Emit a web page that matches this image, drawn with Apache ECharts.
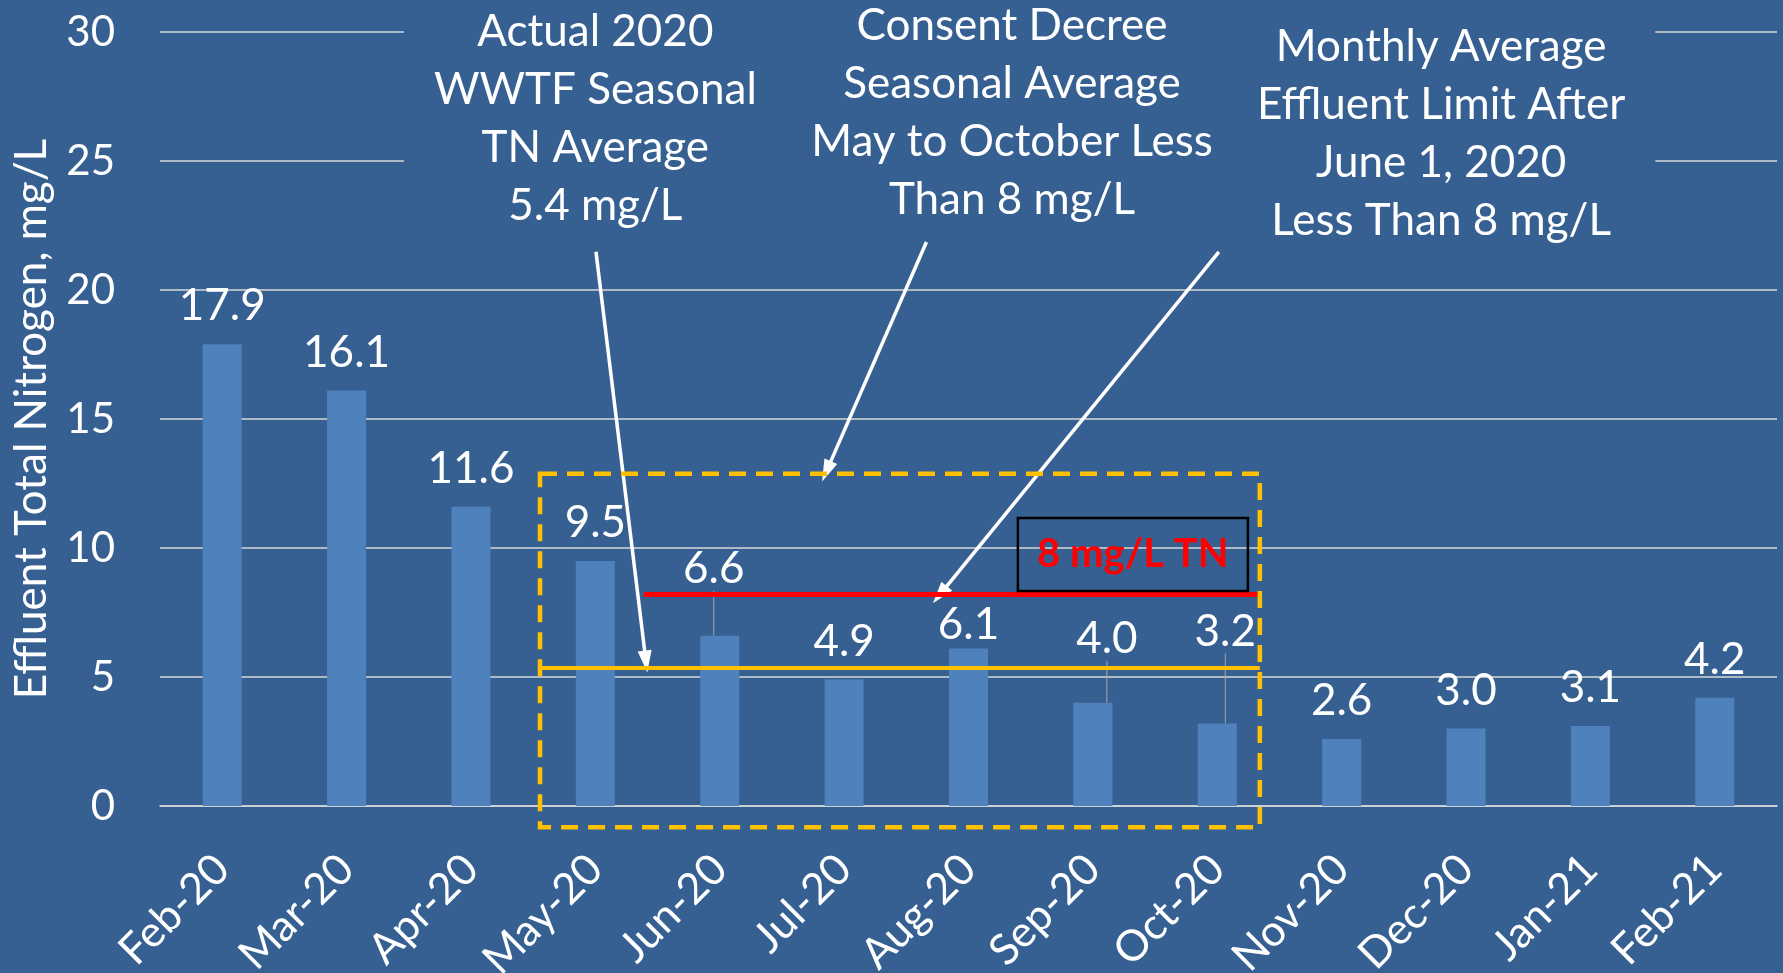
<!DOCTYPE html>
<html>
<head>
<meta charset="utf-8">
<title>Effluent Total Nitrogen</title>
<script src="https://cdn.jsdelivr.net/npm/echarts@6/dist/echarts.min.js"></script>
<style>
    html, body { margin: 0; padding: 0; background: #376092; }
    #Chart { width: 1783px; height: 973px; }
</style>
</head>
<body>
<div id="Chart"></div>
<script>
// data
var months = ['Feb-20', 'Mar-20', 'Apr-20', 'May-20', 'Jun-20', 'Jul-20', 'Aug-20',
    'Sep-20', 'Oct-20', 'Nov-20', 'Dec-20', 'Jan-21', 'Feb-21'];
var tnValues = [17.9, 16.1, 11.6, 9.5, 6.6, 4.9, 6.1, 4.0, 3.2, 2.6, 3.0, 3.1, 4.2];
var yTicks = [0, 5, 10, 15, 20, 25, 30];

// the two level lines, as drawn in the picture (mg/L)
var limitLevel = 8.2;
var seasonalLevel = 5.35;

var noteActual = ['Actual 2020', 'WWTF Seasonal', 'TN Average', '5.4 mg/L'];
var noteDecree = ['Consent Decree', 'Seasonal Average', 'May to October Less', 'Than 8 mg/L'];
var noteMonthly = ['Monthly Average', 'Effluent Limit After', 'June 1, 2020', 'Less Than 8 mg/L'];
var limitTag = '8 mg/L TN';

// annotation anchors: [month index, mg/L]
var notes = [
    { lines: noteActual, at: [3.0, 26.63], from: [3.005, 21.48], to: [3.407, 5.6] },
    { lines: noteDecree, at: [6.35, 26.86], from: [5.662, 21.86], to: [4.858, 12.97] },
    { lines: noteMonthly, at: [9.8, 26.05], from: [8.013, 21.48], to: [5.77, 8.19] }
];
var seasonBox = [[2.555, 12.88], [8.342, -0.82]];
var tagBox = [[6.397, 11.16], [8.246, 8.33]];
var limitSpan = [3.39, 8.34];
var seasonalSpan = [2.555, 8.342];

// label nudges for the crowded months
var labelNudge = { 4: [-6, -29], 6: [0, 14], 7: [14, -26], 8: [8, -54] };

var bgColor = '#376092';
var barColor = '#4F81BD';
var gridColor = '#d9d9d9';
var font = 'Lato';

var barData = tnValues.map(function (v, i) {
    var item = { value: v };
    if (labelNudge[i] && labelNudge[i][1] < 0) {
        item.labelLine = { show: true, lineStyle: { color: '#a6a6a6', width: 1 } };
    }
    return item;
});

var myChart = echarts.init(document.getElementById('Chart'));

var option = {
    animation: false,
    backgroundColor: bgColor,
    grid: { left: 160, right: 6, top: 32, bottom: 167, outerBoundsMode: 'none' },
    xAxis: [{
        type: 'category',
        data: months,
        axisLine: { show: true, lineStyle: { color: gridColor, width: 1.5 } },
        axisTick: { show: false },
        axisLabel: {
            rotate: 45, margin: 56, color: '#fff',
            fontFamily: font, fontSize: 43, interval: 0
        }
    }, {
        type: 'value',
        min: -0.5,
        max: 12.5,
        show: false
    }],
    yAxis: {
        type: 'value',
        min: yTicks[0],
        max: yTicks[yTicks.length - 1],
        interval: yTicks[1] - yTicks[0],
        name: 'Effluent Total Nitrogen, mg/L',
        nameLocation: 'middle',
        nameGap: 106,
        nameTextStyle: { color: '#fff', fontFamily: font, fontSize: 44 },
        axisLine: { show: false },
        axisTick: { show: false },
        axisLabel: { color: '#fff', fontFamily: font, fontSize: 42, margin: 45 },
        splitLine: { show: true, lineStyle: { color: gridColor, width: 1.5 } }
    },
    series: [{
        type: 'bar',
        data: barData,
        barWidth: 39,
        itemStyle: { color: barColor },
        label: {
            show: true,
            position: 'top',
            distance: 16,
            color: '#fff',
            fontFamily: font,
            fontSize: 44,
            formatter: function (p) { return p.value.toFixed(1); }
        },
        labelLayout: function (params) {
            var n = labelNudge[params.dataIndex];
            return n ? { dx: n[0], dy: n[1] } : {};
        },
        silent: true
    }, {
        // arrows
        type: 'line', xAxisIndex: 1, data: [], silent: true,
        markLine: {
            silent: true,
            symbol: ['none', 'triangle'],
            symbolSize: [14, 22],
            label: { show: false },
            lineStyle: { color: '#fff', width: 3.5, type: 'solid' },
            data: notes.map(function (n) {
                return [{ coord: n.from }, { coord: n.to }];
            })
        }
    }, {
        // 8 mg/L limit line
        type: 'line', xAxisIndex: 1, data: [], silent: true,
        markLine: {
            silent: true,
            symbol: ['none', 'none'],
            label: { show: false },
            lineStyle: { color: '#FF0000', width: 5, type: 'solid' },
            data: [[{ coord: [limitSpan[0], limitLevel] }, { coord: [limitSpan[1], limitLevel] }]]
        }
    }, {
        // seasonal average line
        type: 'line', xAxisIndex: 1, data: [], silent: true,
        markLine: {
            silent: true,
            symbol: ['none', 'none'],
            label: { show: false },
            lineStyle: { color: '#FFC000', width: 4, type: 'solid' },
            data: [[{ coord: [seasonalSpan[0], seasonalLevel] }, { coord: [seasonalSpan[1], seasonalLevel] }]]
        }
    }]
};
myChart.setOption(option);

function toPx(p) {
    return myChart.convertToPixel({ xAxisIndex: 1, yAxisIndex: 0 }, p);
}
function rectOf(box) {
    var a = toPx(box[0]), b = toPx(box[1]);
    return { x: a[0], y: a[1], width: b[0] - a[0], height: b[1] - a[1] };
}

var graphics = [];
var sb = rectOf(seasonBox);
graphics.push({
    type: 'rect', z: 10, silent: true, shape: sb,
    style: { fill: 'none', stroke: '#FFC000', lineWidth: 4.5, lineDash: [17, 10] }
});
var tb = rectOf(tagBox);
graphics.push({
    type: 'rect', z: 10, silent: true, shape: tb,
    style: { fill: 'none', stroke: '#000', lineWidth: 2.5 }
});
graphics.push({
    type: 'text', z: 11, silent: true,
    style: {
        x: tb.x + tb.width / 2, y: tb.y + tb.height / 2,
        text: limitTag, fill: '#FF0000',
        font: 'bold 40px ' + font, align: 'center', verticalAlign: 'middle'
    }
});
notes.forEach(function (n) {
    var p = toPx(n.at);
    graphics.push({
        type: 'text', z: 11, silent: true,
        style: {
            x: p[0], y: p[1],
            text: n.lines.join('\n'),
            fill: '#fff', font: '44px ' + font,
            lineHeight: 58, align: 'center', verticalAlign: 'middle',
            backgroundColor: bgColor, padding: [4, 30]
        }
    });
});
myChart.setOption({ graphic: graphics });

window.addEventListener('resize', function () {
    myChart.resize();
});
</script>
</body>
</html>
